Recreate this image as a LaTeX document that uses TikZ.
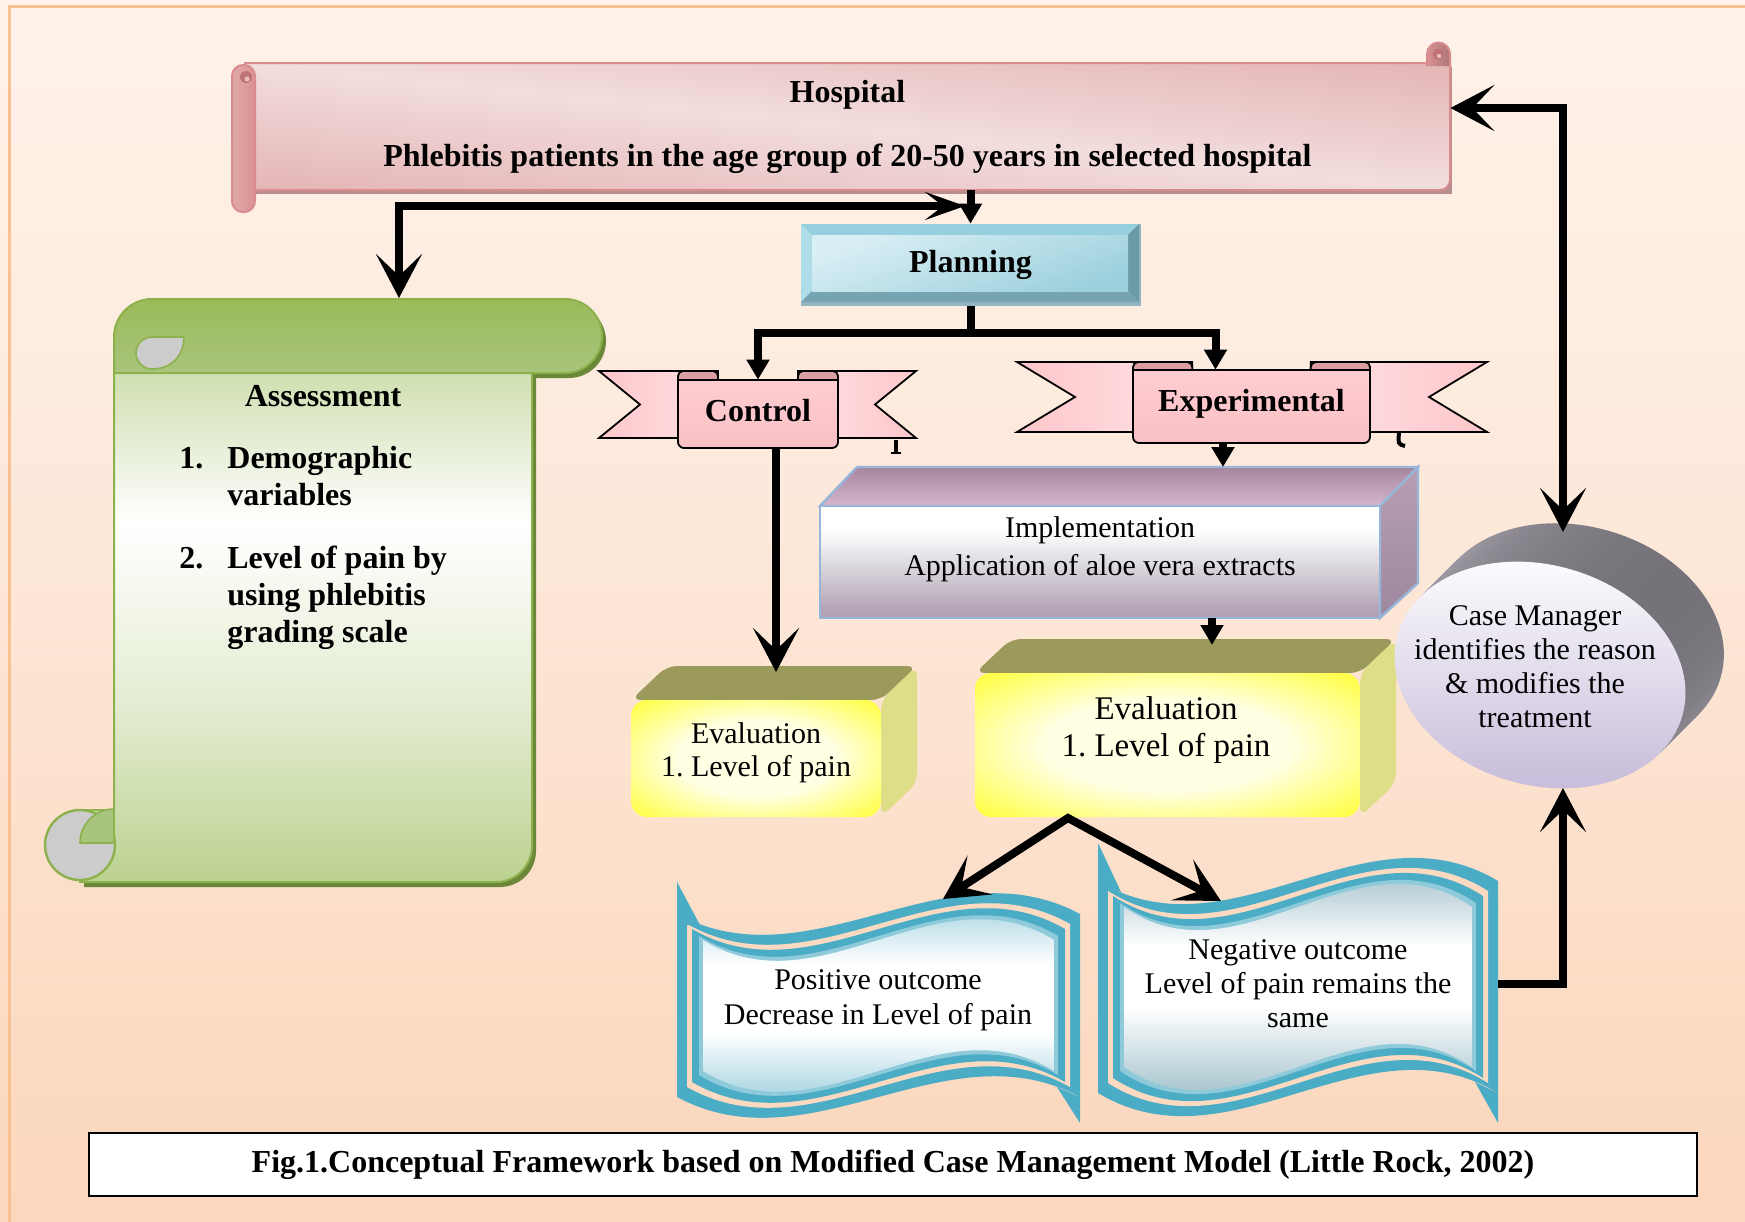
\documentclass[tikz,border=0pt]{standalone}
\usepackage{fontspec}
\setmainfont{Liberation Serif}
\usetikzlibrary{arrows.meta,positioning,calc}

% colours
\definecolor{bgtop}{HTML}{FFFCFA}
\definecolor{bgmid}{HTML}{FDE9DB}
\definecolor{bgbot}{HTML}{FAD1B2}
\definecolor{frameor}{HTML}{F9C091}
\definecolor{hosplt}{HTML}{F2DDDD}
\definecolor{hospdk}{HTML}{D99293}
\definecolor{hospln}{HTML}{D88C8E}
\definecolor{hospsh}{HTML}{B98E8F}
\definecolor{hospcurl}{HTML}{BF7275}
\definecolor{scrgreen}{HTML}{9BBB59}
\definecolor{scrlt}{HTML}{A9C47C}
\definecolor{scrdark}{HTML}{6A8837}
\definecolor{scrline}{HTML}{8DB14C}
\definecolor{curlgrey}{HTML}{CCCCCC}
\definecolor{planlt}{HTML}{DAEFF5}
\definecolor{planmd}{HTML}{9CD0DD}
\definecolor{plantop}{HTML}{96D0DF}
\definecolor{planleft}{HTML}{AEDCE7}
\definecolor{planright}{HTML}{6C9BA7}
\definecolor{planbot}{HTML}{76A5B1}
\definecolor{plansh}{HTML}{93B5BF}
\definecolor{ribpink}{HTML}{FDC6CA}
\definecolor{ribpale}{HTML}{FFE2E4}
\definecolor{ribdark}{HTML}{D99DA2}
\definecolor{ribtop}{HTML}{FFCDD1}
\definecolor{ribbot}{HTML}{F9C0C5}
\definecolor{implfrm}{HTML}{98B5DA}
\definecolor{impltop}{HTML}{A6869F}
\definecolor{implpink}{HTML}{D6B6CD}
\definecolor{implgrey}{HTML}{B7B1BE}
\definecolor{implbot}{HTML}{9D889F}
\definecolor{evtop}{HTML}{9C9A5A}
\definecolor{evside}{HTML}{DEDE88}
\definecolor{evcore}{HTML}{FFFFE4}
\definecolor{evyel}{HTML}{FFFF00}
\definecolor{cmlt}{HTML}{BDB9C2}
\definecolor{cmdk}{HTML}{6E6A72}
\definecolor{cmlav}{HTML}{C9BEDB}
\definecolor{wteal}{HTML}{4BACC6}
\definecolor{wpeach}{HTML}{FBDAC1}
\definecolor{wpale}{HTML}{8FCADB}
\definecolor{wlight}{HTML}{6DB8CE}
\definecolor{wdark}{HTML}{4C889C}

% shadings
\pgfdeclareverticalshading{pagebg}{100bp}{color(0bp)=(bgbot); color(28bp)=(bgbot!70!bgmid); color(55bp)=(bgmid); color(80bp)=(bgtop!60!bgmid); color(100bp)=(bgtop)}
\pgfdeclareverticalshading{hospband}{100bp}{color(0bp)=(hospdk); color(41bp)=(hospdk); color(50bp)=(hosplt); color(59bp)=(hospdk); color(100bp)=(hospdk)}
\pgfdeclareverticalshading{scrollbody}{100bp}{color(0bp)=(scrgreen); color(14bp)=(scrgreen!92!white); color(42bp)=(scrgreen!28!white); color(60bp)=(white); color(74bp)=(scrgreen!45!white); color(88bp)=(scrgreen!70!white); color(100bp)=(scrgreen!85!white)}
\pgfdeclareverticalshading{implface}{100bp}{color(0bp)=(implbot); color(30bp)=(implbot!75!white); color(50bp)=(implgrey!45!white); color(65bp)=(white); color(82bp)=(white); color(100bp)=(implgrey)}
\pgfdeclareradialshading{evalglow}{\pgfpoint{0bp}{0bp}}{color(0bp)=(evcore); color(16bp)=(evcore); color(42bp)=(evyel); color(50bp)=(evyel)}
\pgfdeclareverticalshading{wavepos}{100bp}{color(0bp)=(wlight!85!wteal); color(18bp)=(wlight!80!white); color(42bp)=(white); color(62bp)=(white); color(82bp)=(wlight!70!white); color(100bp)=(wlight)}
\pgfdeclareverticalshading{waveneg}{100bp}{color(0bp)=(wdark); color(20bp)=(wdark!60!white); color(45bp)=(white); color(60bp)=(white); color(80bp)=(wdark!55!white); color(100bp)=(wdark)}

% wave banner: left x, right x, top line, bottom line, control offset
\newcommand{\wavepath}[5]{(#1,#3) .. controls ({#1+(#2-#1)/3},{#3+#5}) and ({#1+2*(#2-#1)/3},{#3-#5}) .. (#2,#3)
  -- (#2,#4) .. controls ({#1+2*(#2-#1)/3},{#4-#5}) and ({#1+(#2-#1)/3},{#4+#5}) .. (#1,#4) -- cycle}

% ribbon banner: tip L, box L, box R, tip R, tail top, box top, box bottom, tail bottom, notch
\newcommand{\ribbon}[9]{%
  \pgfmathsetmacro{\ribc}{0.25*(#3-#2)}%
  \pgfmathsetmacro{\ribm}{0.5*(#5+#8)}%
  \shadedraw[ribline,left color=ribpink,right color=ribpale]
    (#1,#5) -- ({#2+\ribc},#5) -- ({#2+\ribc},#8) -- (#1,#8) -- ({#1+#9},\ribm) -- cycle;
  \shadedraw[ribline,left color=ribpale,right color=ribpink]
    (#4,#5) -- ({#3-\ribc},#5) -- ({#3-\ribc},#8) -- (#4,#8) -- ({#4-#9},\ribm) -- cycle;
  \filldraw[ribline,fill=ribdark,rounded corners=2.5pt]
    (#2,{#6+3}) -- (#2,#5) -- ({#2+\ribc},#5) -- ({#2+\ribc},{#6+3});
  \filldraw[ribline,fill=ribdark,rounded corners=2.5pt]
    (#3,{#6+3}) -- (#3,#5) -- ({#3-\ribc},#5) -- ({#3-\ribc},{#6+3});
  \shadedraw[ribline,top color=ribtop,middle color=ribpale!50!white,bottom color=ribbot]
    (#2,#6) -- (#3,#6) [rounded corners=3pt] -- (#3,#7) -- (#2,#7) [sharp corners] -- cycle;
}

% bevelled cube: front left, top, right, bottom, depth x, depth y
\newcommand{\evalcube}[6]{%
  \fill[evtop,rounded corners=5pt] (#1,#2) -- ({#1+#5},{#2-#6}) -- ({#3+#5},{#2-#6}) -- (#3,#2) -- cycle;
  \fill[evside,rounded corners=5pt] (#3,#2) -- ({#3+#5},{#2-#6}) -- ({#3+#5},{#4-#6}) -- (#3,#4) -- cycle;
  \shade[shading=evalglow,rounded corners=8pt] (#1,#2) rectangle (#3,#4);
}

\begin{document}
\frenchspacing
\begin{tikzpicture}[x=0.5pt,y=-0.5pt,
  bold/.style={font=\fontsize{16}{19}\selectfont\bfseries,align=center,inner sep=0pt},
  plain/.style={font=\fontsize{15}{17.5}\selectfont,align=center,inner sep=0pt},
  ribline/.style={draw=black,line width=0.9pt},
  flow/.style={line width=4pt,line join=miter},
  bigarrow/.style={flow,-{Stealth[length=22pt,width=23pt,inset=11pt]}},
  smallarrow/.style={flow,-{Triangle[length=10pt,width=11pt]}},
  twoway/.style={flow,{Stealth[length=22pt,width=23pt,inset=11pt]}-{Stealth[length=22pt,width=23pt,inset=11pt]}},
]
\useasboundingbox (0,0) rectangle (1745,1221);
\clip (0,0) rectangle (1745,1221);
\shade[shading=pagebg] (0,0) rectangle (1745,1221);
\draw[frameor,line width=1.5pt] (9,6) rectangle (1760,1240);

% hospital scroll
\fill[hospsh] (250,67) rectangle (1452,194);
\begin{scope}
  \clip (245,63) -- (1450,63) [rounded corners=5pt] -- (1450,190) -- (245,190) [sharp corners] -- cycle;
  \shade[shading=hospband,shading angle=-6] (197.5,-523.5) rectangle (1497.5,776.5);
\end{scope}
\draw[hospln,line width=1pt] (245,63) -- (1450,63) [rounded corners=5pt] -- (1450,190) -- (245,190) [sharp corners] -- cycle;
\shadedraw[draw=hospln,line width=1pt,left color=hospdk!70!hosplt,right color=hospdk,rounded corners=5.5pt]
  (232,65) rectangle (255,212);
\fill[hospcurl] (246,77) circle[radius=6];
\fill[hospdk!60!white] (247,79) circle[radius=2.5];
\shadedraw[draw=hospln,line width=1pt,left color=hospdk,right color=hospdk!80!black]
  (1427,66) -- (1427,54) arc[start angle=180,end angle=360,radius=11.5] -- (1450,66);
\fill[hospcurl] (1438,54) circle[radius=5.5];
\fill[hospdk!60!white] (1439,56) circle[radius=2.2];

% assessment scroll
\begin{scope}[shift={(4,5)}]
  \fill[scrdark] (114,373) -- (114,337) arc[start angle=180,end angle=270,radius=38] -- (565,299) arc[start angle=270,end angle=450,radius=37] -- cycle;
  \fill[scrdark] (114,370) -- (532,370) -- (532,846) arc[start angle=0,end angle=90,radius=36] -- (80,882) -- (80,810) -- (114,810) -- cycle;
\end{scope}
\shadedraw[draw=scrline,line width=1pt,shading=scrollbody]
  (114,370) -- (532,370) -- (532,846) arc[start angle=0,end angle=90,radius=36] -- (80,882) -- (80,810) -- (114,810) -- cycle;
\shadedraw[draw=scrline,line width=1pt,top color=scrgreen,bottom color=scrlt]
  (114,373) -- (114,337) arc[start angle=180,end angle=270,radius=38] -- (565,299) arc[start angle=270,end angle=450,radius=37] -- cycle;
\filldraw[fill=curlgrey,draw=scrline,line width=0.8pt]
  (184,337) -- (152,337) arc[start angle=270,end angle=90,radius=16] .. controls (172,369) and (184,355) .. (184,337);
\filldraw[fill=curlgrey,draw=scrline,line width=1.2pt] (80,845) circle[radius=35];
\filldraw[fill=scrlt,draw=scrline,line width=0.8pt] (114,843) -- (80,843) arc[start angle=180,end angle=270,radius=34] -- cycle;

% planning bevel
\fill[plansh] (801,224) rectangle (1141,306);
\fill[plantop] (801,224) -- (1139,224) -- (1128,235) -- (812,235) -- cycle;
\fill[planleft] (801,224) -- (812,235) -- (812,291) -- (801,302) -- cycle;
\fill[planright] (1139,224) -- (1139,302) -- (1128,291) -- (1128,235) -- cycle;
\fill[planbot] (801,302) -- (812,291) -- (1128,291) -- (1139,302) -- cycle;
\shade[top color=planlt,bottom color=planmd,shading angle=20] (812,235) rectangle (1128,291);

% ribbons
\ribbon{599}{678}{838}{916}{371}{380}{448}{438}{41}
\ribbon{1017}{1133}{1370}{1487}{362}{370}{443}{432}{58}
\draw[line width=2.2pt] (896,440) -- (896,453);
\draw[line width=1.1pt] (891,453) -- (901,453);
\draw[line width=2pt] (1399,433) .. controls (1398,444) .. (1405,446);

% implementation block
\shadedraw[draw=implfrm,line width=1.2pt,top color=impltop,bottom color=implpink]
  (820,506) -- (857,467) -- (1418,467) -- (1380,506) -- cycle;
\shadedraw[draw=implfrm,line width=1.2pt,top color=impltop!80!white,middle color=implpink!50!white,bottom color=implbot]
  (1380,506) -- (1418,467) -- (1418,583) -- (1380,618) -- cycle;
\shadedraw[draw=implfrm,line width=1.2pt,shading=implface] (820,506) rectangle (1380,618);

% evaluation cubes
\evalcube{631}{700}{881}{817}{36}{34}
\evalcube{975}{673}{1360}{817}{36}{34}

% case manager disc
\foreach \i in {12,11,...,1}
  \shade[rotate around={-16:({1540+3.2*\i},{675-3.2*\i})},top color=cmdk,bottom color=cmlt,shading angle=-45]
    ({1540+3.2*\i},{675-3.2*\i}) ellipse[x radius=74pt,y radius=55pt];
\shade[rotate around={-16:(1540,675)},top color=white,bottom color=cmlav]
  (1540,675) ellipse[x radius=74pt,y radius=55pt];

% outcome waves
\fill[wteal] \wavepath{677}{1080}{914}{1097}{72};
\fill[wpeach] \wavepath{687}{1070}{924}{1087}{72};
\fill[wteal] \wavepath{692}{1065}{929}{1082}{72};
\fill[wpale] \wavepath{699}{1058}{936}{1075}{72};
\begin{scope}
  \clip \wavepath{703}{1054}{940}{1071}{72};
  \shade[shading=wavepos] (703,918) rectangle (1054,1093);
\end{scope}
\fill[wteal] (677,882) -- (677,925) -- (700,925) -- cycle;
\fill[wteal] (1080,1123) -- (1080,1097) -- (1057,1087) -- cycle;
\fill[wteal] \wavepath{1098}{1498}{881}{1093}{80};
\fill[wpeach] \wavepath{1108}{1488}{891}{1083}{80};
\fill[wteal] \wavepath{1113}{1483}{896}{1078}{80};
\fill[wpale] \wavepath{1120}{1476}{903}{1071}{80};
\begin{scope}
  \clip \wavepath{1124}{1472}{907}{1067}{80};
  \shade[shading=waveneg] (1124,883) rectangle (1472,1091);
\end{scope}
\fill[wteal] (1098,843) -- (1098,885) -- (1121,892) -- cycle;
\fill[wteal] (1498,1123) -- (1498,1093) -- (1475,1082) -- cycle;

% caption
\node[draw=black,line width=1.3pt,fill=white,minimum width=804pt,minimum height=31.5pt,
  font=\fontsize{16}{19}\selectfont\bfseries,inner sep=0pt] (caption) at (893,1164.5)
  {Fig.1.Conceptual Framework based on Modified Case Management Model (Little Rock, 2002)};

% texts
\node[bold,minimum width=602.5pt,minimum height=63.5pt] (hosp) at (847.5,126.5)
  {Hospital\\[13pt]Phlebitis patients in the age group of 20-50 years in selected hospital};
\node[bold,minimum width=169.5pt,minimum height=41pt] (plan) at (970.5,265) {Planning};
\node[bold,minimum width=80pt,minimum height=34pt,text depth=4pt] (ctrl) at (758,414) {Control};
\node[bold,minimum width=118.5pt,minimum height=36.5pt,text depth=6.5pt] (exp) at (1251.5,406.5) {Experimental};
\node[bold] (assess) at (323,396) {Assessment};
\node[bold,font=\fontsize{16}{18.5}\selectfont\bfseries,align=left,anchor=north west] (assess-items) at (179,446)
  {\makebox[24pt][l]{1.}Demographic\\\hspace*{24pt}variables\\[13pt]\makebox[24pt][l]{2.}Level of pain by\\\hspace*{24pt}using phlebitis\\\hspace*{24pt}grading scale};
\node[plain,font=\fontsize{15}{19}\selectfont] (impl) at (1100,549) {Implementation\\Application of aloe vera extracts};
\node[plain,font=\fontsize{15}{16.5}\selectfont] (ev1) at (756,753) {Evaluation\\1. Level of pain};
\node[plain,font=\fontsize{16.5}{18.5}\selectfont] (ev2) at (1166,730) {Evaluation\\1. Level of pain};
\node[plain,font=\fontsize{15}{17}\selectfont] (cm) at (1535,667) {Case Manager\\identifies the reason\\\& modifies the\\treatment};
\node[plain] (pos) at (878,1000) {Positive outcome\\Decrease in Level of pain};
\node[plain,font=\fontsize{15}{17}\selectfont,minimum width=200pt] (neg) at (1298,984) {Negative outcome\\Level of pain remains the\\same};

% connector points
\coordinate (assess-in) at (399,298);
\coordinate (fork) at (965,206);
\coordinate (branch) at (plan.south |- 0,333);
\coordinate (ev1-in) at (776,672);
\coordinate (impl-in) at (1223,467);
\coordinate (impl-out) at (1212,618);
\coordinate (ev2-in) at (1212,645);
\coordinate (ev2-out) at (1068,818);
\coordinate (pos-in) at (943,899);
\coordinate (neg-in) at (1221,901);
\coordinate (cm-turn) at (1563,108);
\coordinate (cm-top) at (1563,532);
\coordinate (cm-bot) at (1563,788);

% connectors
\draw[flow,{Stealth[length=22pt,width=23pt,inset=11pt]}-{Stealth[length=20pt,width=14pt,inset=9pt]}] (assess-in) |- (fork);
\draw[smallarrow] (plan.north |- hosp.south) -- (plan.north);
\draw[flow] (plan.south) -- (branch);
\draw[smallarrow] (branch) -| (ctrl.north);
\draw[smallarrow] (branch) -| ([xshift=-18pt]exp.north);
\draw[bigarrow] (ctrl.south -| ev1-in) -- (ev1-in);
\draw[smallarrow] (exp.south -| impl-in) -- (impl-in);
\draw[smallarrow] (impl-out) -- (ev2-in);
\draw[twoway] (pos-in) -- (ev2-out) -- (neg-in);
\draw[bigarrow] (neg.east) -| (cm-bot);
\draw[twoway] (hosp.east |- cm-turn) -- (cm-turn) -- (cm-top);
\end{tikzpicture}
\end{document}
